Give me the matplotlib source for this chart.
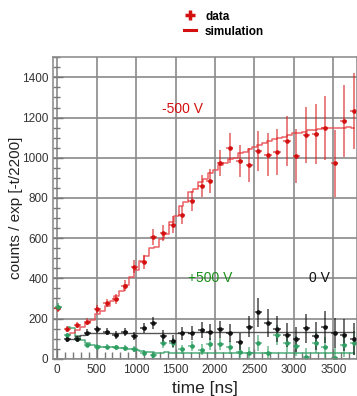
import numpy as np
import matplotlib
matplotlib.use("Agg")
import matplotlib.pyplot as plt
from matplotlib.lines import Line2D
from matplotlib.ticker import MultipleLocator

plt.rcParams["font.family"] = ["Liberation Sans", "DejaVu Sans"]

# bin centres of the measured points (ns)
t_data = [128, 255, 381, 508, 626, 744, 858, 976, 1099, 1216, 1343, 1462, 1576, 1702, 1829, 1934,
          2069, 2187, 2314, 2432, 2546, 2672, 2786, 2913, 3032, 3158, 3276, 3390, 3516, 3630, 3757]

# -500 V
red_y = [147, 167, 185, 247, 277, 297, 363, 457, 483, 605, 627, 667, 713, 785, 860, 885,
         973, 1048, 985, 965, 1035, 1015, 1030, 1085, 1010, 1115, 1118, 1148, 972, 1182, 1232]
red_err = [15, 15, 18, 20, 22, 25, 28, 32, 35, 38, 40, 42, 45, 50, 55, 58,
           65, 75, 80, 85, 100, 107, 115, 125, 135, 140, 150, 160, 165, 180, 190]

# 0 V
black_y = [97, 100, 130, 147, 135, 118, 135, 113, 152, 177, 113, 88, 127, 127, 143, 135,
           147, 127, 85, 160, 230, 177, 147, 118, 97, 152, 113, 157, 127, 118, 100]
black_err = [12, 14, 16, 18, 18, 18, 20, 22, 25, 30, 28, 28, 32, 35, 38, 40,
             43, 44, 42, 52, 70, 70, 65, 62, 62, 72, 70, 78, 75, 78, 80]

# +500 V
green_y = [118, 100, 68, 60, 60, 57, 52, 47, 27, 18, 77, 77, 47, 63, 45, 73,
           73, 57, 35, 27, 77, 27, 118, 80, 63, 10, 80, 57, 2, 67, 80]
green_err = [10, 12, 12, 12, 12, 13, 14, 15, 16, 17, 22, 24, 22, 26, 26, 30,
             32, 32, 32, 32, 40, 38, 50, 48, 48, 45, 52, 52, 50, 58, 60]

# first bin near t = 0
t_first = [5, 12]
first_y = [250, 258]
first_err = [18, 18]

# simulation histograms (62.5 ns bins)
t_sim = [131, 194, 256, 319, 381, 444, 506, 569, 631, 694, 756, 819, 881, 944, 1006, 1069,
         1131, 1194, 1256, 1319, 1381, 1444, 1506, 1569, 1631, 1694, 1756, 1819, 1881, 1944,
         2006, 2069, 2131, 2194, 2256, 2319, 2381, 2444, 2506, 2569, 2631, 2694, 2756, 2819,
         2881, 2944, 3006, 3069, 3131, 3194, 3256, 3319, 3381, 3444, 3506, 3569, 3631, 3694, 3756]
sim_red = [120, 130, 145, 160, 178, 195, 220, 238, 262, 285, 312, 338, 368, 405, 440, 488,
           510, 552, 555, 598, 620, 680, 712, 760, 778, 830, 845, 878, 895, 925,
           940, 965, 975, 995, 1000, 1025, 1030, 1045, 1055, 1063, 1075, 1085, 1093, 1098,
           1105, 1115, 1122, 1125, 1130, 1138, 1140, 1145, 1147, 1148, 1146, 1150, 1148, 1152, 1150]
sim_black = [97, 100, 112, 120, 126, 128, 130, 128, 130, 127, 128, 126, 127, 128, 127, 128,
             127, 128, 127, 126, 128, 127, 128, 130, 131, 130, 132, 131, 133, 132,
             133, 134, 133, 134, 133, 135, 134, 133, 135, 134, 133, 134, 135, 134,
             133, 134, 135, 134, 135, 134, 133, 135, 134, 135, 134, 133, 135, 134, 135]
sim_green = [158, 152, 115, 95, 78, 70, 63, 60, 58, 56, 54, 52, 50, 47, 43, 36,
             32, 31, 30, 30, 31, 30, 29, 30, 29, 30, 29, 29, 30, 29,
             29, 28, 29, 28, 29, 28, 27, 28, 28, 27, 28, 27, 28, 27,
             27, 28, 27, 28, 27, 27, 28, 27, 27, 28, 27, 27, 28, 27, 27]

RED = "#d40f0f"
RED_SIM = "#e8474c"
GREEN = "#2e9e62"
GREEN_TXT = "#1b8f1b"
BLACK = "#111111"
GRID = "#8a8a8a"

fig = plt.figure(figsize=(3.57, 3.96), dpi=100)
ax = fig.add_axes([0.1493, 0.0942, 0.8507, 0.7611])

ax.set_xlim(-50, 3800)
ax.set_ylim(0, 1500)

ax.grid(True, color=GRID, lw=1.2)
ax.set_axisbelow(True)

ax.step(t_sim, sim_green, where="mid", color=GREEN, lw=1.1, alpha=0.85)
ax.step(t_sim, sim_black, where="mid", color="#444444", lw=1.0, alpha=0.9)
ax.step(t_sim, sim_red, where="mid", color=RED_SIM, lw=1.1, alpha=0.85)

xe = 45
ax.errorbar(t_data, green_y, yerr=green_err, xerr=xe, fmt="o", ms=2.3, color=GREEN,
            ecolor=(0.18, 0.62, 0.38, 0.55), elinewidth=1.4, capsize=0)
ax.errorbar(t_data, black_y, yerr=black_err, xerr=xe, fmt="o", ms=2.3, color=BLACK,
            ecolor=(0.05, 0.05, 0.05, 0.75), elinewidth=1.1, capsize=0)
ax.errorbar(t_data, red_y, yerr=red_err, xerr=xe, fmt="o", ms=2.3, color=RED,
            ecolor=(0.85, 0.1, 0.1, 0.55), elinewidth=1.4, capsize=0)
ax.errorbar(t_first[:1], first_y[:1], yerr=first_err[:1], xerr=xe, fmt="o", ms=2.3,
            color=RED, ecolor=(0.85, 0.1, 0.1, 0.6), elinewidth=1.4, capsize=0)
ax.errorbar(t_first[1:], first_y[1:], yerr=first_err[1:], xerr=xe, fmt="o", ms=2.3,
            color=GREEN, ecolor=(0.18, 0.62, 0.38, 0.7), elinewidth=1.4, capsize=0)

ax.text(1590, 1243, "-500 V", color=RED, fontsize=10, ha="center", va="center")
ax.text(1940, 400, "+500 V", color=GREEN_TXT, fontsize=10, ha="center", va="center")
ax.text(3330, 400, "0 V", color=BLACK, fontsize=10, ha="center", va="center")

ax.xaxis.set_major_locator(MultipleLocator(500))
ax.xaxis.set_minor_locator(MultipleLocator(100))
ax.yaxis.set_major_locator(MultipleLocator(200))
ax.yaxis.set_minor_locator(MultipleLocator(50))
ax.tick_params(which="both", direction="in", colors="#777777", labelcolor="#333333",
               labelsize=8.5, top=False, right=False)
ax.tick_params(which="major", length=7, width=1)
ax.tick_params(which="minor", length=5, width=1)
for s in ax.spines.values():
    s.set_color("#888888")
    s.set_linewidth(1.1)

ax.set_xlabel("time [ns]", fontsize=12.5, color="#222222")
ax.set_ylabel("counts / exp [-t/2200]", fontsize=11, color="#222222")
ax.yaxis.set_label_coords(-0.1, 0.5)

h_data = Line2D([], [], color=RED, marker="+", ls="none", ms=7, mew=2.5)
h_sim = Line2D([], [], color=RED, lw=2.2)
leg = fig.legend(handles=[h_data, h_sim], labels=["data", "simulation"], loc="upper left",
                 bbox_to_anchor=(0.485, 1.0), frameon=False, handlelength=1.0,
                 handletextpad=0.8, labelspacing=0.25,
                 prop={"size": 8.5, "weight": "bold"})

fig.savefig("out.png", dpi=100)
